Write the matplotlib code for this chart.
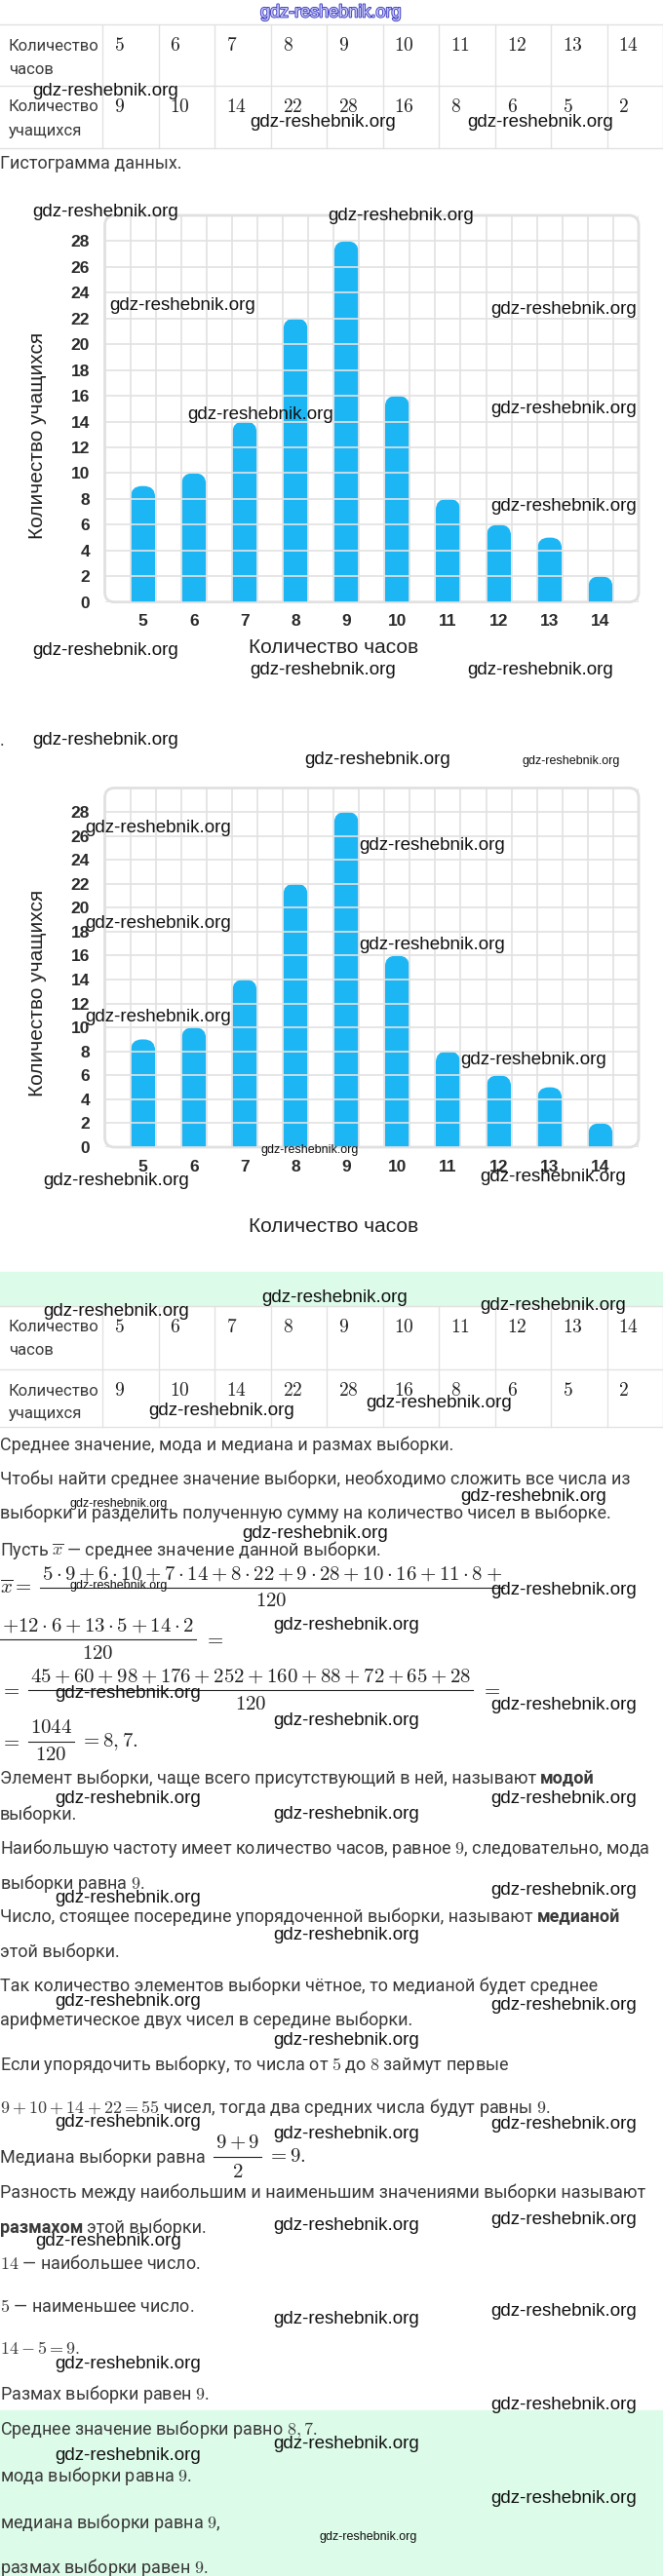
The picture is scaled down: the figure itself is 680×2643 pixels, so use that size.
import matplotlib
matplotlib.use("Agg")
import matplotlib.pyplot as plt
import matplotlib.patheffects as pe
from matplotlib.patches import FancyBboxPatch, Rectangle

# data from the table / histogram
hours = [5, 6, 7, 8, 9, 10, 11, 12, 13, 14]
students = [9, 10, 14, 22, 28, 16, 8, 6, 5, 2]
y_ticks = list(range(0, 29, 2))
row_labels = [("Количество", "часов"), ("Количество", "учащихся")]

W, H = 680, 2643
plt.rcParams['mathtext.fontset'] = 'cm'
BODY = ['Roboto', 'DejaVu Sans']
WM = ['Liberation Sans Narrow', 'Liberation Sans', 'DejaVu Sans']
CHART = ['Liberation Sans', 'DejaVu Sans']
TXT = '#3a3a3a'
MATH = '#222222'
GREEN = '#dcfbe9'
BAR = '#1db6f5'
LINE = '#e2e2e2'

fig = plt.figure(figsize=(W / 100, H / 100), dpi=100)
bg = fig.add_axes([0, 0, 1, 1])
bg.set_xlim(0, W)
bg.set_ylim(H, 0)
bg.axis('off')
renderer = fig.canvas.get_renderer()


def put(x, y, s, size=13, color=TXT, weight='normal', family=BODY, ax=None, **kw):
    ax = ax or bg
    return ax.text(x, y, s, fontsize=size, color=color, weight=weight,
                   family=family, va=kw.pop('va', 'center'), **kw)


def right_of(t, gap=4):
    return t.get_window_extent(renderer).x1 + gap


def put_parts(x, y, parts):
    for s, w in parts:
        t = put(x, y, s, weight=w)
        x = right_of(t)


def frac(x, y, num, den, size=15, off=14, pad=2):
    tn = put(x, y - off, num, size=size, color=MATH, ha='center')
    td = put(x, y + off, den, size=size, color=MATH, ha='center')
    w = max(tn.get_window_extent(renderer).width,
            td.get_window_extent(renderer).width) + 2 * pad
    tn.set_x(x + w / 2)
    td.set_x(x + w / 2)
    bg.plot([x, x + w], [y, y], color=MATH, lw=0.8)
    return x + w


# green bands
bg.add_patch(Rectangle((0, 1305), W, 35, color=GREEN, zorder=0))
bg.add_patch(Rectangle((0, 2473), W, H - 2473, color=GREEN, zorder=0))


def table(top, mid, bottom):
    edges = [105 + 57.5 * i for i in range(11)]
    for y in (top, mid, bottom):
        bg.plot([0, W], [y, y], color=LINE, lw=1)
    for x in edges:
        bg.plot([x, x], [top, bottom], color=LINE, lw=1)
    rows = [(top, mid, hours), (mid, bottom, students)]
    for (a, b, vals), lab in zip(rows, row_labels):
        put(9, a + 22, lab[0], size=12)
        put(9, a + 46, lab[1], size=12)
        for x, v in zip(edges, vals):
            put(x + 12, a + 22, f"${v}$", size=14, color=MATH)


table(25, 88, 152)
put(0, 168, "Гистограмма данных.")


def chart(y_top, y_zero, ylab_y, xlab_y):
    x0, x1 = 107.5, 655
    bg.add_patch(FancyBboxPatch((x0, y_top), x1 - x0, y_zero - y_top,
                                boxstyle='round,pad=0,rounding_size=10',
                                ec='#e0e0e0', fc='white', lw=2, zorder=1))
    ax = fig.add_axes([x0 / W, 1 - y_zero / H, (x1 - x0) / W, (y_zero - y_top) / H])
    ax.set_xlim(4.25, 14.75)
    ax.set_ylim(0, 30)
    ax.patch.set_alpha(0)
    for s in ax.spines.values():
        s.set_visible(False)
    ax.set_xticks(hours)
    ax.set_xticks([4.25 + 0.5 * k for k in range(22)], minor=True)
    ax.set_yticks(y_ticks)
    ax.grid(which='minor', axis='x', color=LINE, lw=1.2)
    ax.grid(which='major', axis='y', color=LINE, lw=1.2)
    ax.tick_params(which='both', length=0, labelsize=12.5, labelcolor='#2a2a2a')
    ax.tick_params(axis='x', pad=9)
    ax.tick_params(axis='y', pad=11)
    for lab in ax.get_xticklabels() + ax.get_yticklabels():
        lab.set_family(CHART)
        lab.set_weight('bold')
    px_x = (x1 - x0) / 10.5
    px_y = (y_zero - y_top) / 30
    asp = px_x / px_y
    for h, v in zip(hours, students):
        ax.add_patch(FancyBboxPatch((h - 0.24, -2), 0.48, v + 2,
                                    boxstyle='round,pad=0,rounding_size=0.22',
                                    mutation_aspect=asp, fc=BAR, ec='none'))
    put(39, ylab_y, "Количество учащихся", size=15, color='#222', family=CHART,
        rotation=90, ha='center')
    put(342, xlab_y, "Количество часов", size=15, color='#222', family=CHART,
        ha='center')


chart(221, 617.7, 447, 665)
put(0, 760, ".")
chart(808.5, 1177, 1019, 1259)

table(1340, 1405, 1464)

lines = [
    (1483, "Среднее значение, мода и медиана и размах выборки."),
    (1518, "Чтобы найти среднее значение выборки, необходимо сложить все числа из"),
    (1553, "выборки и разделить полученную сумму на количество чисел в выборке."),
    (1590, r"Пусть $\overline{x}$ — среднее значение данной выборки."),
    (1862, "выборки."),
    (1896, "Наибольшую частоту имеет количество часов, равное $9$, следовательно, мода"),
    (1932, "выборки равна $9$."),
    (2003, "этой выборки."),
    (2038, "Так количество элементов выборки чётное, то медианой будет среднее"),
    (2073, "арифметическое двух чисел в середине выборки."),
    (2118, "Если упорядочить выборку, то числа от $5$ до $8$ займут первые"),
    (2163, "$9+10+14+22=55$ чисел, тогда два средних числа будут равны $9$."),
    (2250, "Разность между наибольшим и наименьшим значениями выборки называют"),
    (2322, "$14$ — наибольшее число."),
    (2367, "$5$ — наименьшее число."),
    (2410, "$14-5=9.$"),
    (2456, "Размах выборки равен $9$."),
    (2492, "Среднее значение выборки равно $8,7$."),
    (2541, "мода выборки равна $9$."),
    (2588, "медиана выборки равна $9$,"),
    (2635, "размах выборки равен $9$."),
]
for y, s in lines:
    put(0, y, s)

put_parts(0, 1825, [("Элемент выборки, чаще всего присутствующий в ней, называют", 'normal'),
                    ("модой", 'bold')])
put_parts(0, 1967, [("Число, стоящее посередине упорядоченной выборки, называют", 'normal'),
                    ("медианой", 'bold')])
put_parts(0, 2286, [("размахом", 'bold'), ("этой выборки.", 'normal')])

# worked mean / median formulas
t = put(0, 1629, r"$\overline{x} =$", size=15, color=MATH)
frac(right_of(t, 8), 1629,
     r"$5\cdot9+6\cdot10+7\cdot14+8\cdot22+9\cdot28+10\cdot16+11\cdot8+$", r"$120$")

x = frac(0, 1682, r"$+12\cdot6+13\cdot5+14\cdot2$", r"$120$")
put(x + 8, 1682, r"$=$", size=15, color=MATH)

t = put(0, 1734, r"$=$", size=15, color=MATH)
x = frac(right_of(t, 8), 1734, r"$45+60+98+176+252+160+88+72+65+28$", r"$120$")
put(x + 8, 1734, r"$=$", size=15, color=MATH)

t = put(0, 1787, r"$=$", size=15, color=MATH)
x = frac(right_of(t, 8), 1787, r"$1044$", r"$120$")
put(x + 6, 1787, r"$=8,7.$", size=15, color=MATH)

t = put(0, 2214, "Медиана выборки равна")
x = frac(right_of(t, 8), 2213, r"$9+9$", r"$2$", off=15)
put(x + 6, 2213, r"$=9.$", size=15, color=MATH)

# watermarks on top of everything
top = fig.add_axes([0, 0, 1, 1])
top.set_xlim(0, W)
top.set_ylim(H, 0)
top.axis('off')
top.patch.set_alpha(0)

t = put(267, 13, "gdz-reshebnik.org", size=13, color='#c8c8f4', family=WM, ax=top)
t.set_path_effects([pe.withStroke(linewidth=1.3, foreground='#3a3ac4')])

marks = [
    (33, 93), (256, 125), (479, 125),
    (33, 217), (336, 221), (112, 313), (503, 317), (192, 425), (503, 420),
    (503, 520), (33, 668), (256, 688), (479, 688),
    (33, 760), (312, 779), (87, 850), (368, 868), (87, 947), (368, 969),
    (87, 1043), (472, 1088), (44, 1212), (492, 1208),
    (268, 1332), (44, 1345), (492, 1340), (152, 1448), (375, 1440),
    (472, 1536), (248, 1573), (503, 1632), (280, 1668), (56, 1737),
    (503, 1749), (280, 1765), (56, 1845), (503, 1845), (280, 1862),
    (503, 1940), (56, 1948), (280, 1985), (56, 2053), (503, 2057),
    (280, 2093), (56, 2177), (503, 2180), (280, 2189), (503, 2277),
    (280, 2284), (36, 2300), (280, 2380), (503, 2372), (56, 2425),
    (503, 2467), (280, 2508), (56, 2520), (503, 2564),
]
small_marks = [(536, 781), (268, 1180), (72, 1543), (72, 1627), (327, 2603)]
for x, y in marks:
    put(x, y, "gdz-reshebnik.org", size=13.5, color='#111', family=WM, ax=top)
for x, y in small_marks:
    put(x, y, "gdz-reshebnik.org", size=9, color='#111', family=WM, ax=top)

fig.savefig("out.png", dpi=100)
